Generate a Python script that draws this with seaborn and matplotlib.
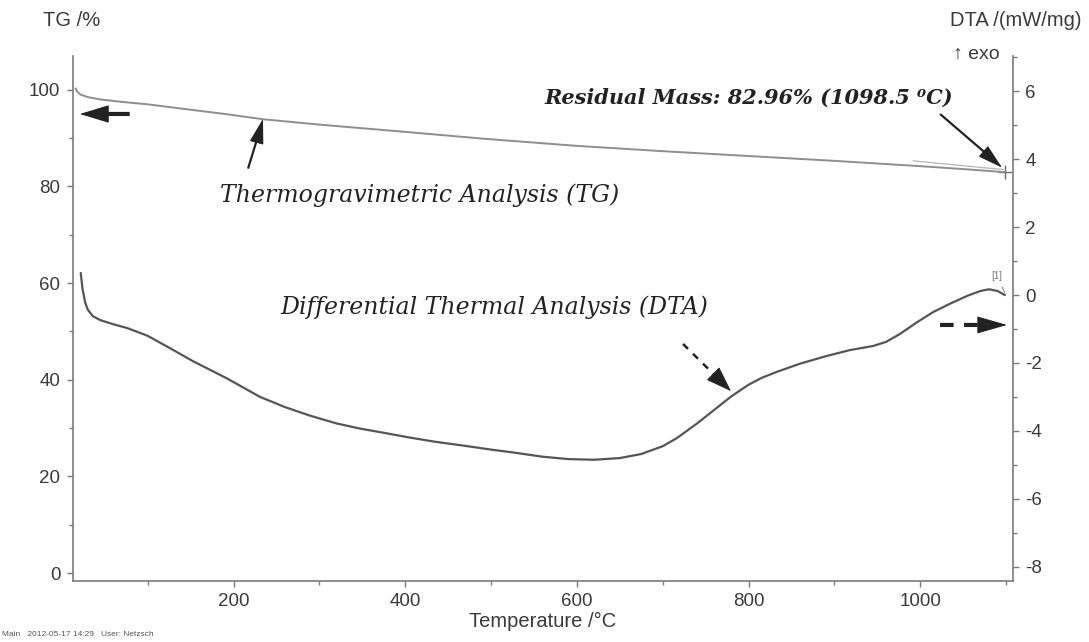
import numpy as np
import pandas as pd
import seaborn as sns
import matplotlib
matplotlib.use("Agg")
import matplotlib.pyplot as plt
from matplotlib.ticker import MultipleLocator

# ---------------- data ----------------
tg_temp = [16, 18, 22, 30, 45, 70, 100, 140, 190, 235, 300, 400, 490, 600,
           700, 800, 900, 1000, 1050, 1098.5]
tg_mass = [100.3, 99.6, 99.0, 98.5, 98.0, 97.5, 97.0, 96.1, 95.0, 93.9, 92.8,
           91.3, 89.9, 88.4, 87.3, 86.3, 85.3, 84.2, 83.6, 82.96]

dta_temp = [22, 24, 27, 30, 36, 45, 60, 76, 100, 125, 153, 192, 231, 260, 289,
            320, 347, 376, 406, 435, 464, 500, 530, 560, 590, 620, 650, 675,
            700, 716, 740, 760, 780, 800, 815, 833, 860, 890, 918, 945, 960,
            976, 995, 1015, 1035, 1055, 1070, 1080, 1090, 1098.5]
dta_signal = [0.65, 0.2, -0.2, -0.42, -0.62, -0.74, -0.86, -0.97, -1.2, -1.55,
              -1.95, -2.45, -3.0, -3.3, -3.55, -3.78, -3.93, -4.06, -4.2,
              -4.32, -4.42, -4.55, -4.65, -4.76, -4.83, -4.85, -4.8, -4.68,
              -4.45, -4.22, -3.78, -3.38, -2.98, -2.64, -2.44, -2.26, -2.02,
              -1.8, -1.62, -1.5, -1.38, -1.15, -0.82, -0.5, -0.25, -0.02,
              0.12, 0.17, 0.12, 0.0]

tangent_temp = [991.6, 1096.4]
tangent_mass = [85.3, 83.5]
residual_temp = [1098.5]
residual_mass = [82.96]

x_ticks = [200, 400, 600, 800, 1000]
tg_ticks = [0, 20, 40, 60, 80, 100]
dta_ticks = [-8, -6, -4, -2, 0, 2, 4, 6]

# ---------------- style ----------------
sns.set_theme(style="ticks")
plt.rcParams['font.family'] = ['Liberation Sans', 'DejaVu Sans']
plt.rcParams['axes.unicode_minus'] = False

W, H = 1089, 642
fig = plt.figure(figsize=(W / 100, H / 100), dpi=100)
L, R, T, B = 73, 1013, 56, 581
ax = fig.add_axes([L / W, 1 - B / H, (R - L) / W, (B - T) / H])
ax2 = ax.twinx()

spine_c = '#7a7a7a'
lab_c = '#3a3a3a'

sns.lineplot(x=tg_temp, y=tg_mass, ax=ax, color='#8e8e8e', linewidth=1.4,
             legend=False)
sns.lineplot(x=tangent_temp, y=tangent_mass, ax=ax, color='#b5b5b5',
             linewidth=0.9, legend=False)
sns.scatterplot(x=residual_temp, y=residual_mass, ax=ax, marker='+', s=100,
                color='#6a6a6a', linewidth=1.0, legend=False)
sns.lineplot(x=dta_temp, y=dta_signal, ax=ax2, color='#555555', linewidth=1.6,
             legend=False)

ax.set_xlim(13, 1108)
ax.set_ylim(-1.65, 107.0)
ax2.set_ylim(-8.42, 7.04)

ax.set_xticks(x_ticks)
ax.set_yticks(tg_ticks)
ax2.set_yticks(dta_ticks)
ax.xaxis.set_minor_locator(MultipleLocator(100))
ax.yaxis.set_minor_locator(MultipleLocator(10))
ax2.yaxis.set_minor_locator(MultipleLocator(1))

for a in (ax, ax2):
    for s in a.spines.values():
        s.set_color(spine_c)
        s.set_linewidth(1.2)
    a.spines['top'].set_visible(False)
ax.spines['right'].set_visible(False)
ax2.spines['left'].set_visible(False)
ax2.spines['bottom'].set_visible(False)

ax.tick_params(axis='both', which='major', direction='out', length=4,
               width=1, color=spine_c, labelcolor=lab_c, labelsize=13.5, pad=5)
ax.tick_params(axis='both', which='minor', direction='out', length=3,
               width=1, color=spine_c)
ax2.tick_params(axis='y', which='major', direction='out', length=4, width=1,
                color=spine_c, labelcolor=lab_c, labelsize=13.5, pad=5)
ax2.tick_params(axis='y', which='minor', direction='out', length=3, width=1,
                color=spine_c)

ax.set_xlabel('')
ax.set_ylabel('')
ax2.set_ylabel('')

# axis titles as in the instrument export
fig.text(43 / W, 1 - 20 / H, 'TG /%', fontsize=14.5, color=lab_c,
         ha='left', va='center')
fig.text(1082 / W, 1 - 20 / H, 'DTA /(mW/mg)', fontsize=14.5, color=lab_c,
         ha='right', va='center')
fig.text(1000 / W, 1 - 54 / H, '↑ exo', fontsize=14, color=lab_c,
         ha='right', va='center')
fig.text(543 / W, 1 - 621 / H, 'Temperature /°C', fontsize=14.5, color=lab_c,
         ha='center', va='center')
fig.text(2 / W, 1 - 634 / H, 'Main   2012-05-17 14:29   User: Netzsch',
         fontsize=6, color='#555555', ha='left', va='center')

serif = ['DejaVu Serif']
ax.text(184, 78.1, 'Thermogravimetric Analysis (TG)', fontsize=17,
        style='italic', family=serif, color='#222222', ha='left', va='center')
ax.text(254, 55.0, 'Differential Thermal Analysis (DTA)', fontsize=17,
        style='italic', family=serif, color='#222222', ha='left', va='center')
ax.text(1038, 98.3, 'Residual Mass: 82.96% (1098.5 ⁰C)', fontsize=15,
        style='italic', weight='bold', family=serif, color='#222222',
        ha='right', va='center')

dark = '#222222'


def head(a, tip, base, length_pt, half_pt):
    a.annotate('', xy=tip, xytext=base, annotation_clip=False,
               arrowprops=dict(arrowstyle='-|>,head_length=%.3f,head_width=%.3f'
                               % (length_pt / 10.0, half_pt / 10.0),
                               mutation_scale=10, lw=0.8, color=dark,
                               shrinkA=0, shrinkB=0))


def shaft(a, start, end, lw, ls):
    a.annotate('', xy=end, xytext=start, annotation_clip=False,
               arrowprops=dict(arrowstyle='-', lw=lw, color=dark,
                               linestyle=ls, shrinkA=0, shrinkB=0,
                               capstyle='butt'))


# TG axis arrow (points left)
shaft(ax, (79, 95.0), (48, 95.0), 3.0, '-')
head(ax, (21, 95.0), (52, 95.0), 19, 5.8)
# TG pointer
shaft(ax, (216.9, 83.7), (229.5, 91.0), 1.6, '-')
head(ax, (234.3, 94.0), (228.6, 90.2), 16, 4.5)
# Residual mass pointer
shaft(ax, (1023, 95.0), (1082, 86.0), 1.6, '-')
head(ax, (1095.2, 83.9), (1078.5, 86.5), 16, 4.5)
# DTA dashed pointer
shaft(ax2, (723.6, -1.44), (760.3, -2.355), 1.8, (0, (2.8, 2.8)))
head(ax2, (779.5, -2.83), (760.3, -2.355), 16.5, 5.8)
# DTA axis arrow (points right, dashed)
shaft(ax2, (1023, -0.88), (1069.6, -0.88), 3.0, (0, (3.25, 2.5)))
head(ax2, (1101, -0.88), (1069.6, -0.88), 19.5, 5.6)
# [1] marker
ax2.annotate('[1]', xy=(1098.7, 0.06), xytext=(1089.4, 0.55),
             fontsize=7, color='#777777', ha='center', va='center',
             annotation_clip=False,
             arrowprops=dict(arrowstyle='-', lw=0.7, color='#888888',
                             shrinkA=2, shrinkB=0))

fig.savefig('out.png', dpi=100)
